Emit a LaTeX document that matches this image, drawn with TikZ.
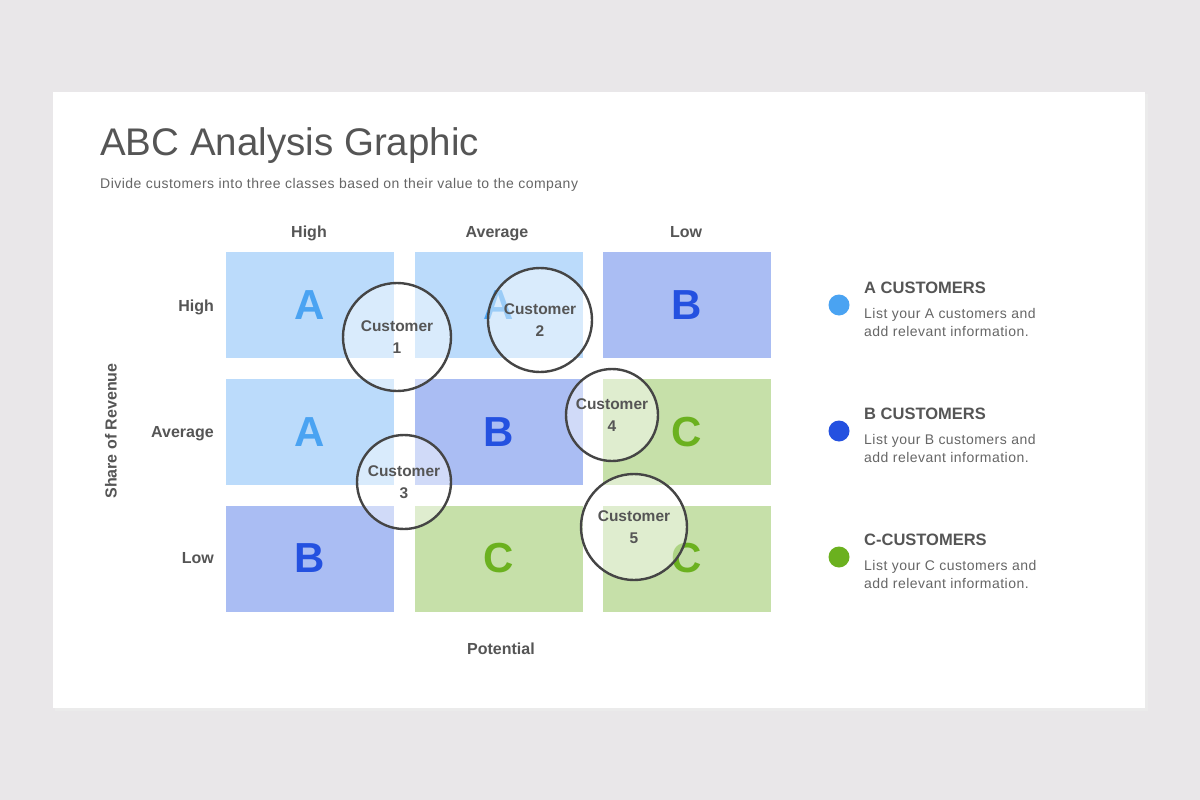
\documentclass[tikz,border=0pt]{standalone}
\usepackage{fontspec}
\setmainfont{Liberation Sans}
\newfontfamily\widefont[LetterSpace=3.4]{Liberation Sans}
\usepackage{xcolor}
\usetikzlibrary{positioning}

\definecolor{pagebg}{HTML}{E9E7E9}
\definecolor{inktext}{HTML}{555555}
\definecolor{inkbody}{HTML}{666666}
\definecolor{cellA}{HTML}{BBDBFB}
\definecolor{letterA}{HTML}{4AA3F2}
\definecolor{cellB}{HTML}{AABDF3}
\definecolor{letterB}{HTML}{2451E0}
\definecolor{cellC}{HTML}{C6E0A9}
\definecolor{letterC}{HTML}{6BB11F}
\definecolor{ringgray}{HTML}{454545}

\begin{document}
\begin{tikzpicture}[
    x=1pt,y=-1pt,
    cell/.style={rectangle,minimum width=168pt,minimum height=106pt,inner sep=0pt,font=\fontsize{42}{42}\selectfont\bfseries},
    cellA/.style={cell,fill=cellA,text=letterA},
    cellB/.style={cell,fill=cellB,text=letterB},
    cellC/.style={cell,fill=cellC,text=letterC},
    axislabel/.style={font=\fontsize{16}{18}\selectfont\bfseries,text=inktext,inner sep=0pt},
    customer/.style={circle,draw=ringgray,line width=2.4pt,fill=white,fill opacity=0.45,text opacity=1,
        inner sep=0pt,align=center,text=inktext,font=\fontsize{15.5}{22}\selectfont\bfseries},
    legenddot/.style={circle,minimum size=21pt,inner sep=0pt},
    legendhead/.style={anchor=west,inner sep=0pt,font=\fontsize{16.5}{18}\selectfont\bfseries,text=inktext},
    legendbody/.style={anchor=west,inner sep=0pt,align=left,font=\widefont\fontsize{14}{18}\selectfont,text=inkbody}
]
\useasboundingbox (0,0) rectangle (1200,800);
\fill[pagebg] (0,0) rectangle (1200,800);
\fill[black!8] (55,94) rectangle (1148,711);
\fill[white] (53,92) rectangle (1145,708);

% title
\node[anchor=base west,inner sep=0pt,font=\fontsize{38.5}{40}\selectfont,text=inktext] (title) at (100,155) {ABC Analysis Graphic};
\node[anchor=base west,inner sep=0pt,font=\widefont\fontsize{14}{16}\selectfont,text=inkbody] (subtitle) at (100,188) {Divide customers into three classes based on their value to the company};

% grid cells
\node[cellA] (hh) at (310,305) {A};
\node[cellA] (ha) at (498.5,305) {A};
\node[cellB] (hl) at (686.5,305) {B};
\node[cellA] (ah) at (310,432) {A};
\node[cellB] (aa) at (498.5,432) {B};
\node[cellC] (al) at (686.5,432) {C};
\node[cellB] (lh) at (310,558.5) {B};
\node[cellC] (la) at (498.5,558.5) {C};
\node[cellC] (ll) at (686.5,558.5) {C};

% axis labels
\node[axislabel,anchor=base] (colhigh) at (309,237) {High};
\node[axislabel,anchor=base] (colavg) at (497,237) {Average};
\node[axislabel,anchor=base] (collow) at (686,237) {Low};
\node[axislabel,anchor=base east] (rowhigh) at (214,311) {High};
\node[axislabel,anchor=base east] (rowavg) at (214,437) {Average};
\node[axislabel,anchor=base east] (rowlow) at (214,563) {Low};
\node[axislabel,rotate=90] (share) at (111,431) {Share of Revenue};
\node[axislabel,anchor=base] (potential) at (501,654) {Potential};

% customers
\node[customer,minimum size=108pt] (cust1) at (397,337) {Customer\\1};
\node[customer,minimum size=104pt] (cust2) at (540,320) {Customer\\2};
\node[customer,minimum size=94pt] (cust3) at (404,482) {Customer\\3};
\node[customer,minimum size=92pt] (cust4) at (612,415) {Customer\\4};
\node[customer,minimum size=106pt] (cust5) at (634,527) {Customer\\5};

% legend
\node[legenddot,fill=letterA] (dotA) at (839,305) {};
\node[legenddot,fill=letterB] (dotB) at (839,431) {};
\node[legenddot,fill=letterC] (dotC) at (839,557) {};
\node[legendhead] (headA) at (864,288) {A CUSTOMERS};
\node[legendbody] (bodyA) at (864,322) {List your A customers and\\add relevant information.};
\node[legendhead] (headB) at (864,414) {B CUSTOMERS};
\node[legendbody] (bodyB) at (864,448) {List your B customers and\\add relevant information.};
\node[legendhead] (headC) at (864,540) {C-CUSTOMERS};
\node[legendbody] (bodyC) at (864,574) {List your C customers and\\add relevant information.};
\end{tikzpicture}
\end{document}
